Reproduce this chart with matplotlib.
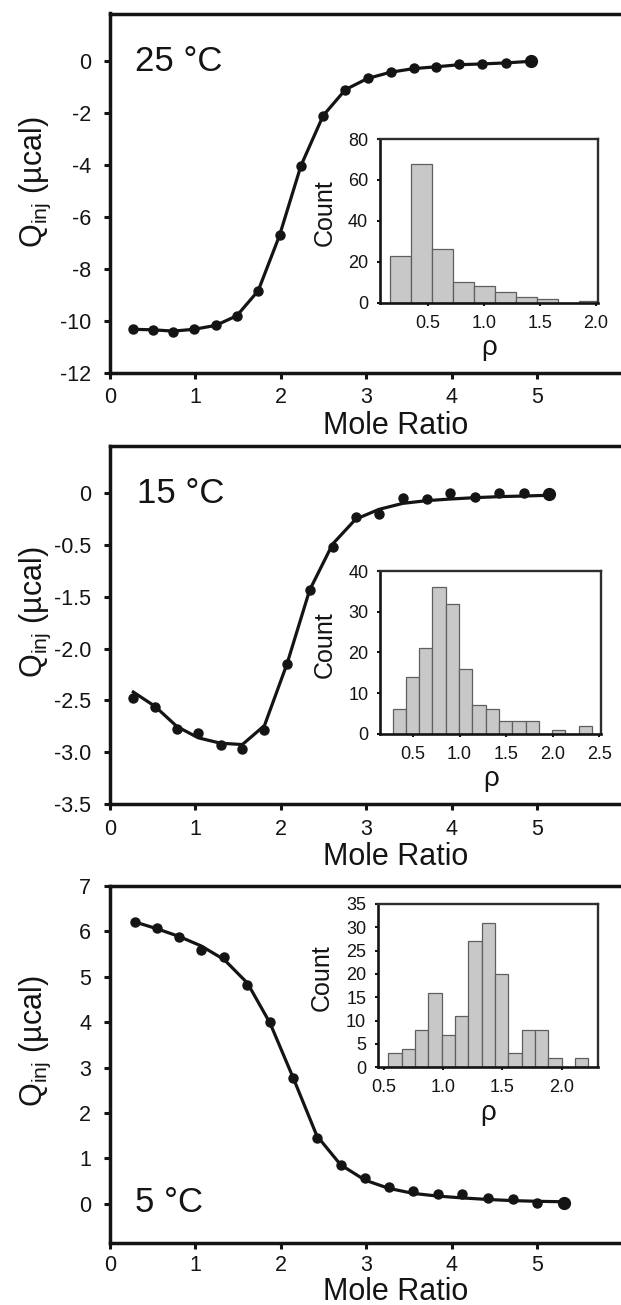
import matplotlib.pyplot as plt
import numpy as np

plt.rcParams['font.family'] = ['Liberation Sans', 'DejaVu Sans']
plt.rcParams['mathtext.fontset'] = 'custom'
plt.rcParams['mathtext.rm'] = 'Liberation Sans'
plt.rcParams['axes.unicode_minus'] = False

# ---- 25 C titration ----
mole_25 = [0.264, 0.505, 0.741, 0.982, 1.237, 1.483, 1.733, 1.983, 2.234, 2.493,
           2.753, 3.012, 3.281, 3.550, 3.818, 4.087, 4.356, 4.634, 4.920]
q_25 = [-10.33, -10.35, -10.42, -10.33, -10.18, -9.81, -8.85, -6.72, -4.03, -2.11,
        -1.11, -0.68, -0.44, -0.28, -0.245, -0.14, -0.14, -0.08, -0.01]
fit_25 = [-10.33, -10.35, -10.40, -10.33, -10.18, -9.81, -8.85, -6.72, -4.03, -2.11,
          -1.11, -0.68, -0.44, -0.30, -0.23, -0.15, -0.12, -0.08, -0.02]
counts_25 = [23, 68, 26, 10, 8, 5, 3, 2, 0, 1]
bin_start_25 = 0.161
bin_width_25 = 0.187

# ---- 15 C titration (values on the evenly spaced axis as printed) ----
mole_15 = [0.273, 0.528, 0.783, 1.033, 1.293, 1.548, 1.807, 2.071, 2.335, 2.604,
           2.873, 3.146, 3.424, 3.702, 3.980, 4.268, 4.555, 4.838, 5.130]
q_15 = [-1.977, -2.065, -2.28, -2.316, -2.435, -2.468, -2.29, -1.652, -0.929, -0.516,
        -0.232, -0.203, -0.048, -0.058, 0.0, -0.032, 0.006, 0.006, -0.006]
fit_15 = [-1.919, -2.058, -2.252, -2.361, -2.413, -2.426, -2.242, -1.645, -0.935, -0.49,
          -0.25, -0.155, -0.097, -0.071, -0.055, -0.042, -0.032, -0.026, -0.019]
counts_15 = [6, 14, 21, 36, 32, 16, 7, 6, 3, 3, 3, 0, 1, 0, 2]
bin_start_15 = 0.28
bin_width_15 = 0.1427
ytick_pos_15 = [0, -0.5, -1.0, -1.5, -2.0, -2.5, -3.0]
ytick_lab_15 = ['0', '-0.5', '-1.5', '-2.0', '-2.5', '-3.0', '-3.5']

# ---- 5 C titration ----
mole_5 = [0.287, 0.547, 0.806, 1.066, 1.335, 1.608, 1.872, 2.146, 2.419, 2.697,
          2.984, 3.262, 3.545, 3.832, 4.120, 4.421, 4.713, 5.000, 5.306]
q_5 = [6.214, 6.082, 5.869, 5.59, 5.443, 4.819, 4.011, 2.762, 1.454, 0.852,
       0.558, 0.36, 0.286, 0.213, 0.213, 0.118, 0.095, 0.022, 0.007]
fit_5 = [6.21, 6.06, 5.89, 5.68, 5.38, 4.86, 3.98, 2.76, 1.50, 0.86,
         0.52, 0.34, 0.23, 0.17, 0.13, 0.095, 0.07, 0.055, 0.045]
counts_5 = [3, 4, 8, 16, 7, 11, 27, 31, 20, 3, 8, 8, 2, 0, 2]
bin_start_5 = 0.536
bin_width_5 = 0.1126

FIG_W, FIG_H = 621, 1305
INK = '#141414'


def px_axes(fig, left, top, right, bottom):
    """Place an axes from pixel edges (origin top-left)."""
    return fig.add_axes([left / FIG_W, 1 - bottom / FIG_H,
                         (right - left) / FIG_W, (bottom - top) / FIG_H])


def draw_main(ax, x, y, fit, label, label_pos, ylim, xlab_y, ylab_y, xpad=6):
    ax.plot(x, fit, color=INK, lw=2.3, zorder=2)
    ax.plot(x[:-1], y[:-1], 'o', color=INK, ms=6.5, zorder=3)
    ax.plot(x[-1:], y[-1:], 'o', color=INK, ms=8.5, zorder=3)
    ax.set_xlim(0, 5.977)
    ax.set_ylim(*ylim)
    ax.set_xticks([0, 1, 2, 3, 4, 5])
    for side in ['left', 'bottom', 'top']:
        ax.spines[side].set_linewidth(2.5)
        ax.spines[side].set_color(INK)
    ax.spines['right'].set_visible(False)
    ax.tick_params(direction='out', length=4.5, width=2.2, labelsize=15.5,
                   colors=INK)
    ax.tick_params(axis='x', pad=xpad)
    ax.tick_params(axis='y', pad=9)
    ax.set_xlabel('Mole Ratio', fontsize=22, color=INK)
    ax.xaxis.set_label_coords(0.558, xlab_y)
    ax.xaxis.label.set_va('top')
    ax.set_ylabel(r'Q$_{\mathregular{inj}}$ (µcal)', fontsize=22, color=INK)
    ax.yaxis.set_label_coords(-0.112, ylab_y)
    ax.text(label_pos[0], label_pos[1], label, transform=ax.transAxes,
            fontsize=25, color=INK, ha='left', va='center')


def draw_inset(ax, counts, start, width, xlim, xticks, ylim, yticks):
    edges = start + width * np.arange(len(counts))
    ax.bar(edges, counts, width=width, align='edge', color='#c8c8c8',
           edgecolor='#5f5f5f', linewidth=0.9, zorder=2)
    ax.set_xlim(*xlim)
    ax.set_ylim(*ylim)
    ax.set_xticks(xticks)
    ax.set_xticklabels([f'{t:.1f}' for t in xticks])
    ax.set_yticks(yticks)
    for side in ['left', 'bottom']:
        ax.spines[side].set_linewidth(1.9)
        ax.spines[side].set_color(INK)
    for side in ['top', 'right']:
        ax.spines[side].set_linewidth(1.7)
        ax.spines[side].set_color('#2e2e2e')
    ax.tick_params(direction='out', length=2.5, width=1.5, labelsize=13,
                   colors=INK, pad=6)
    ax.set_ylabel('Count', fontsize=18, color=INK)
    ax.yaxis.set_label_coords(-0.2, 0.55)
    ax.set_xlabel('ρ', fontsize=20, color=INK)
    ax.xaxis.set_label_coords(0.5, -0.2)
    ax.xaxis.label.set_va('top')


fig = plt.figure(figsize=(FIG_W / 100, FIG_H / 100), dpi=100)

# top panel: 25 C
ax1 = px_axes(fig, 110, 13.5, 621, 372.7)
draw_main(ax1, mole_25, q_25, fit_25, '25 °C', (0.048, 0.865), (-12, 1.82), -0.106, 0.532)
ax1.set_yticks(np.arange(-12, 1, 2))
in1 = px_axes(fig, 380, 139, 598.3, 302.7)
draw_inset(in1, counts_25, bin_start_25, bin_width_25, (0.071, 2.02),
           [0.5, 1.0, 1.5, 2.0], (0, 80), [0, 20, 40, 60, 80])

# middle panel: 15 C
ax2 = px_axes(fig, 110, 446, 621, 804)
draw_main(ax2, mole_15, q_15, fit_15, '15 °C', (0.052, 0.868), (-3.0, 0.457), -0.106, 0.535)
ax2.set_yticks(ytick_pos_15)
ax2.set_yticklabels(ytick_lab_15)
in2 = px_axes(fig, 380.5, 571, 601, 733.7)
draw_inset(in2, counts_15, bin_start_15, bin_width_15, (0.151, 2.517),
           [0.5, 1.0, 1.5, 2.0, 2.5], (0, 40), [0, 10, 20, 30, 40])

# bottom panel: 5 C
ax3 = px_axes(fig, 110, 886, 621, 1243.3)
draw_main(ax3, mole_5, q_5, fit_5, '5 °C', (0.048, 0.114), (-0.87, 7), -0.093, 0.567, xpad=4)
ax3.set_yticks(np.arange(0, 8, 1))
in3 = px_axes(fig, 378, 904, 598.3, 1067.3)
draw_inset(in3, counts_5, bin_start_5, bin_width_5, (0.449, 2.31),
           [0.5, 1.0, 1.5, 2.0], (0, 35), [0, 5, 10, 15, 20, 25, 30, 35])

plt.savefig('out.png', dpi=100)
plt.close()
print("Saved: out.png")
